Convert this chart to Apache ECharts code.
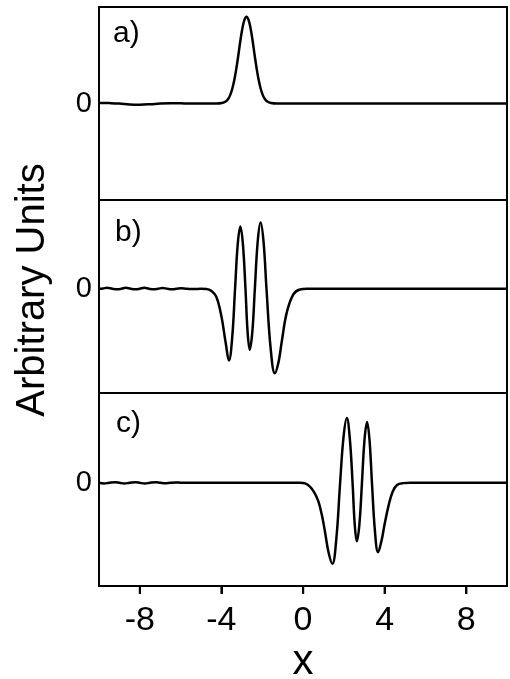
<!DOCTYPE html>
<html>
<head>
<meta charset="utf-8">
<script src="https://cdn.jsdelivr.net/npm/echarts@6/dist/echarts.min.js"></script>
<style>
  html, body { margin: 0; padding: 0; background: #fff; }
  #chart { width: 510px; height: 679px; }
</style>
</head>
<body>
<div id="chart"></div>
<script>
// ---- data ----
var xTicks = [-8, -4, 0, 4, 8];
var yTicks = [0];
var panelLabels = ['a)', 'b)', 'c)'];

var curveA = [
  [-10, 0.005], [-9.5, 0.004], [-9, 0.0], [-8.5, -0.01], [-8, -0.012], [-7.5, -0.008],
  [-7, 0.0], [-6.5, 0.003], [-6, 0.002], [-5.5, 0], [-5, 0], [-4.5, 0],
  [-4.27, 0.0], [-3.97, 0.005], [-3.77, 0.024], [-3.67, 0.047], [-3.57, 0.087],
  [-3.47, 0.15], [-3.37, 0.24], [-3.27, 0.36], [-3.17, 0.50], [-3.07, 0.65],
  [-2.97, 0.78], [-2.87, 0.866], [-2.77, 0.90], [-2.67, 0.866], [-2.57, 0.78],
  [-2.47, 0.65], [-2.37, 0.50], [-2.27, 0.36], [-2.17, 0.24], [-2.07, 0.15],
  [-1.97, 0.087], [-1.87, 0.047], [-1.77, 0.024], [-1.57, 0.005], [-1.27, 0.0],
  [-1, 0], [0, 0], [5, 0], [10, 0]
];

var curveB = [
  [-10, 0], [-9.8, 0.004], [-9.6, 0.01], [-9.35, 0], [-9.1, -0.006], [-8.9, 0],
  [-8.68, 0.01], [-8.45, 0], [-8.2, -0.006], [-8.0, 0], [-7.78, 0.01], [-7.55, 0],
  [-7.3, -0.006], [-7.1, 0], [-6.88, 0.008], [-6.65, 0], [-6.4, -0.005], [-6.2, 0],
  [-5.98, 0.006], [-5.7, 0], [-5.4, -0.002], [-5.0, 0], [-4.74, -0.002],
  [-4.5, -0.02], [-4.25, -0.083], [-4.0, -0.285], [-3.79, -0.56], [-3.63, -0.744],
  [-3.48, -0.53], [-3.33, 0], [-3.20, 0.46], [-3.07, 0.646], [-2.945, 0.46],
  [-2.82, 0], [-2.715, -0.45], [-2.61, -0.632], [-2.485, -0.45], [-2.36, 0],
  [-2.22, 0.49], [-2.08, 0.6875], [-1.935, 0.49], [-1.79, 0], [-1.585, -0.62],
  [-1.38, -0.875], [-1.2, -0.76], [-1.05, -0.56], [-0.8, -0.25], [-0.48, -0.06],
  [-0.15, -0.007], [0.2, 0], [5, 0], [10, 0]
];

var curveC = [
  [-10, 0], [-9.75, -0.008], [-9.5, 0], [-9.2, 0.006], [-9.0, 0], [-8.75, -0.008],
  [-8.5, 0], [-8.2, 0.006], [-8.0, 0], [-7.75, -0.008], [-7.5, 0], [-7.2, 0.005],
  [-7.0, 0], [-6.75, -0.006], [-6.5, 0], [-6.2, 0.003], [-6.0, 0], [-5.5, 0],
  [-4, 0], [-1, 0], [-0.15, 0], [0.1, -0.006], [0.34, -0.04], [0.55, -0.10],
  [0.75, -0.19], [0.92, -0.33], [1.08, -0.51], [1.25, -0.72], [1.44, -0.84],
  [1.63, -0.59], [1.82, 0], [1.985, 0.47], [2.15, 0.67], [2.29, 0.47], [2.43, 0],
  [2.535, -0.43], [2.64, -0.607], [2.765, -0.43], [2.89, 0], [3.015, 0.445],
  [3.14, 0.629], [3.26, 0.445], [3.38, 0], [3.53, -0.51], [3.68, -0.719],
  [3.85, -0.6], [4.0, -0.43], [4.2, -0.232], [4.4, -0.09], [4.61, -0.024],
  [4.9, -0.004], [5.27, 0], [10, 0]
];

var yRanges = [[-1, 1], [-1.08, 0.92], [-1.07, 0.93]];
var curves = [curveA, curveB, curveC];

// ---- chart ----
var FONT = '"Liberation Sans", Arial, Helvetica, sans-serif';
var gridTops = [7, 200, 393];
var grids = [], xAxes = [], yAxes = [], series = [];
for (var i = 0; i < 3; i++) {
  var last = (i === 2);
  grids.push({
    left: 99, right: 3, top: gridTops[i], height: 193,
    outerBoundsMode: 'none',
    show: true, borderColor: '#000', borderWidth: 2
  });
  xAxes.push({
    gridIndex: i, type: 'value', min: -10, max: 10,
    axisLine: { show: last, onZero: false, lineStyle: { color: '#000', width: 2 } },
    splitLine: { show: false },
    axisTick: { show: last, customValues: xTicks, length: 8,
                lineStyle: { color: '#000', width: 2 } },
    axisLabel: { show: last, customValues: xTicks, fontSize: 34, color: '#000',
                 fontFamily: FONT, margin: 18 }
  });
  yAxes.push({
    gridIndex: i, type: 'value', min: yRanges[i][0], max: yRanges[i][1],
    axisLine: { show: false }, splitLine: { show: false },
    axisTick: { show: false },
    axisLabel: { customValues: yTicks, fontSize: 29, color: '#000',
                 fontFamily: FONT, margin: 7 }
  });
  series.push({
    type: 'line', xAxisIndex: i, yAxisIndex: i, data: curves[i],
    showSymbol: false, smooth: 0.4,
    lineStyle: { color: '#000', width: 2.5 }
  });
}

// outward tick marks on the bottom axis, placed through the axis scale,
// drawn on a separate top layer
series.push({
  type: 'custom', xAxisIndex: 2, yAxisIndex: 2, clip: false, silent: true,
  zlevel: 1, z: 100,
  data: xTicks.map(function (v) { return [v, yRanges[2][0]]; }),
  encode: { x: 0, y: 1 },
  renderItem: function (params, api) {
    var p = api.coord([api.value(0), api.value(1)]);
    return {
      type: 'rect',
      shape: { x: p[0] - 1, y: p[1], width: 2.2, height: 8 },
      style: { fill: '#000' }
    };
  }
});

var labelPos = [[113, 34], [115, 233], [116, 424]];
var graphics = [{
  type: 'text', x: 33, y: 290, rotation: Math.PI / 2,
  style: { text: 'Arbitrary Units', font: '40px ' + FONT, fill: '#000',
           align: 'center', verticalAlign: 'middle' }
}, {
  type: 'text', x: 303, y: 662,
  style: { text: 'x', font: '42px ' + FONT, fill: '#000',
           align: 'center', verticalAlign: 'middle' }
}];
for (var k = 0; k < 3; k++) {
  graphics.push({
    type: 'text', x: labelPos[k][0], y: labelPos[k][1],
    style: { text: panelLabels[k], font: '30px ' + FONT, fill: '#000',
             align: 'left', verticalAlign: 'middle' }
  });
}

var chart = echarts.init(document.getElementById('chart'));
chart.setOption({
  animation: false,
  backgroundColor: '#fff',
  grid: grids, xAxis: xAxes, yAxis: yAxes, series: series,
  graphic: graphics
});
</script>
</body>
</html>
